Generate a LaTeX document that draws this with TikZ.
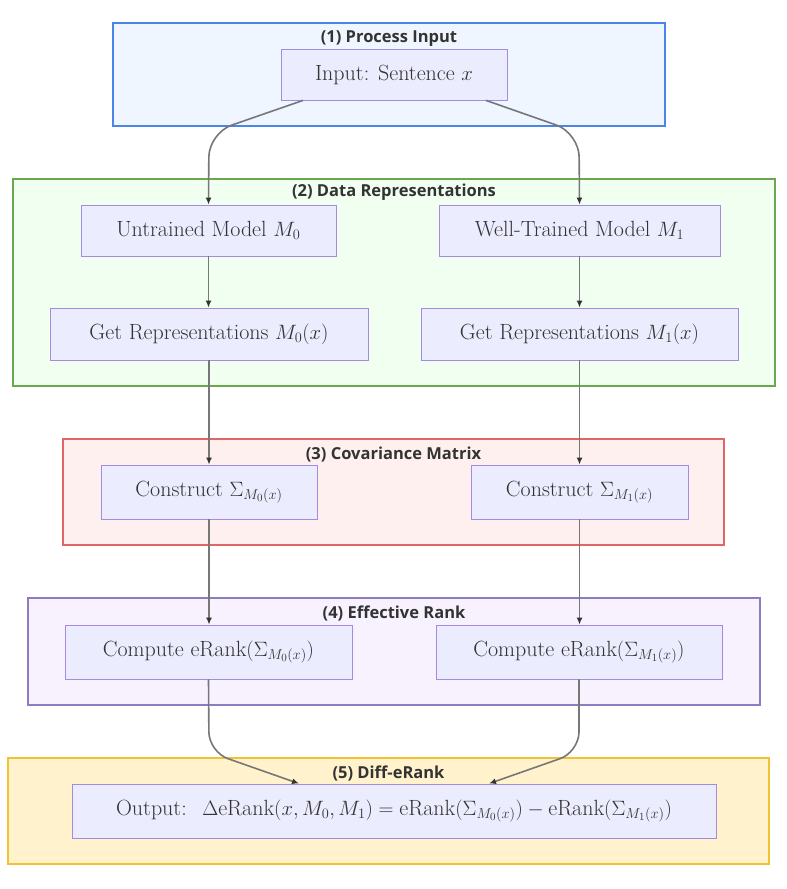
\documentclass[tikz,border=0pt]{standalone}
\usepackage{fontspec}
\setsansfont{Open Sans}
\usetikzlibrary{positioning,arrows.meta,calc}

\definecolor{boxfill}{HTML}{ECECFF}
\definecolor{boxline}{HTML}{A58BE0}
\definecolor{linegray}{HTML}{777777}
\definecolor{titlegray}{HTML}{333333}
\definecolor{bluefill}{HTML}{EFF6FF}   \definecolor{blueline}{HTML}{4A86E8}
\definecolor{greenfill}{HTML}{F0FFF0}  \definecolor{greenline}{HTML}{6AA84F}
\definecolor{redfill}{HTML}{FFF0F0}    \definecolor{redline}{HTML}{E06666}
\definecolor{purplefill}{HTML}{F8F2FF} \definecolor{purpleline}{HTML}{8E7CC3}
\definecolor{yellowfill}{HTML}{FFF2CC} \definecolor{yellowline}{HTML}{F1C232}

\tikzset{
  stepbox/.style={draw=boxline, fill=boxfill, line width=0.8pt, inner sep=0pt,
    text=titlegray, font=\fontsize{22}{26}\selectfont},
  group/.style={draw=#1line, fill=#1fill, line width=1.5pt, inner sep=0pt},
  grouptitle/.style={font=\sffamily\bfseries\fontsize{16.5}{19}\selectfont, text=titlegray, inner sep=0pt},
  arr/.style={draw=linegray, line width=1.6pt, -{Latex[length=7pt,width=6pt,color=titlegray]}}
}

\begin{document}
\begin{tikzpicture}[x=1pt, y=-1pt]
\useasboundingbox (0,0) rectangle (787,889);
% clusters
\foreach \n/\x/\y/\w/\h/\c/\ty/\name in {
    1/389/74.5/552/103/blue/38.5/{(1) Process Input},
    2/394/282.5/762/207/green/192.5/{(2) Data Representations},
    3/393.5/492/661/106/red/454.5/{(3) Covariance Matrix},
    4/394/651.5/732/107/purple/613.5/{(4) Effective Rank},
    5/388.5/811/761/106/yellow/773.5/{(5) Diff-eRank}}{
  \node[group=\c, minimum width=\w pt, minimum height=\h pt] (g\n) at (\x,\y) {};
  \node[grouptitle] (t\n) at (\x,\ty) {\name};
}
% steps
\foreach \n/\x/\y/\w/\h/\txt in {
    input/394/74.5/226/51/{Input: Sentence $x$},
    m0/208.5/230.5/255/51/{Untrained Model $M_0$},
    m1/579.5/230.5/281/51/{Well-Trained Model $M_1$},
    rep0/209/334/318/52/{Get Representations $M_0(x)$},
    rep1/579.5/334/317/52/{Get Representations $M_1(x)$},
    cov0/209/492/216/54/{Construct $\Sigma_{M_0(x)}$},
    cov1/579.5/492/217/54/{Construct $\Sigma_{M_1(x)}$},
    er0/208.5/652/287/54/{Compute eRank$(\Sigma_{M_0(x)})$},
    er1/579/652/286/54/{Compute eRank$(\Sigma_{M_1(x)})$},
    out/394/811/644/54/{Output:~ $\Delta\mathrm{eRank}(x,M_0,M_1)=\mathrm{eRank}(\Sigma_{M_0(x)})-\mathrm{eRank}(\Sigma_{M_1(x)})$}}{
  \node[stepbox, minimum width=\w pt, minimum height=\h pt] (\n) at (\x,\y) {\txt};
}
% connectors
\coordinate (k0) at (209,133);
\coordinate (k1) at (579,133);
\coordinate (j0) at (209,752);
\coordinate (j1) at (579,752);
\draw[arr, rounded corners=24pt] ([xshift=-91pt]input.south) -- (k0) -- (m0.north);
\draw[arr, rounded corners=24pt] ([xshift=92pt]input.south) -- (k1) -- (m1.north);
\foreach \a/\b in {m0/rep0, rep0/cov0, cov0/er0, m1/rep1, rep1/cov1, cov1/er1}
  \draw[arr] (\a.south) -- (\a.south |- \b.north);
\draw[arr, rounded corners=20pt] (er0.south) -- (j0) -- ([xshift=-95pt]out.north);
\draw[arr, rounded corners=20pt] (er1.south) -- (j1) -- ([xshift=95pt]out.north);
\end{tikzpicture}
\end{document}
